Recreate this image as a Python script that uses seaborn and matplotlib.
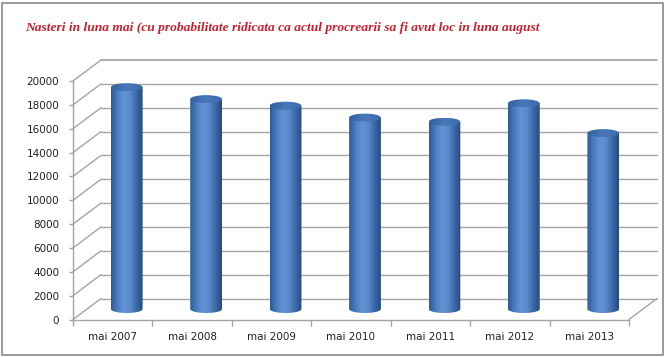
import numpy as np
import pandas as pd
import matplotlib
matplotlib.use("Agg")
import matplotlib.pyplot as plt
import seaborn as sns
from matplotlib.patches import Ellipse, PathPatch, ConnectionPatch, Rectangle
from matplotlib.path import Path
from matplotlib.colors import LinearSegmentedColormap

# date: nasteri in luna mai
labels = ['mai 2007', 'mai 2008', 'mai 2009', 'mai 2010', 'mai 2011', 'mai 2012', 'mai 2013']
values = [18600, 17600, 17050, 16050, 15700, 17250, 14750]
y_ticks = list(range(0, 20001, 2000))
title = 'Nasteri in luna mai (cu probabilitate ridicata ca actul procrearii sa fi avut loc in luna august'

sns.set_theme(style='white')
plt.rcParams['font.family'] = ['DejaVu Sans']

W, H = 666, 357
fig = plt.figure(figsize=(W / 100, H / 100), dpi=100)
fig.patch.set_facecolor('white')

grid_c = '#a4a4a4'

# axa din fata (pozitie in pixeli)
fx0, fy0, fw, fh = 73, 37.5, 556, 238.5
dx, dy = 28, 21   # adancime 3D
ell_px = 8        # inaltimea elipsei in pixeli
ymax = 20000
ell_h = ell_px / fh * ymax

ax_back = fig.add_axes([(fx0 + dx) / W, (fy0 + dy) / H, fw / W, fh / H], zorder=0)
ax = fig.add_axes([fx0 / W, fy0 / H, fw / W, fh / H], zorder=1)
# axa cilindrilor, putin mai jos ca sa incapa elipsa de la baza
ax_mid = fig.add_axes([(fx0 + dx / 2) / W, (fy0 + dy / 2 - ell_px) / H,
                       fw / W, (fh + ell_px) / H], zorder=2)

for a in (ax_back, ax):
    a.set_xlim(-0.5, len(labels) - 0.5)
    a.set_ylim(0, ymax)
    a.patch.set_alpha(0)
ax_mid.patch.set_alpha(0)

# perete spate: linii de grila
for v in y_ticks:
    ax_back.axhline(v, color=grid_c, lw=1.0 if v < ymax else 1.3, zorder=0, clip_on=False)
ax_back.set_xticks([])
ax_back.set_yticks([])
for s in ax_back.spines.values():
    s.set_visible(False)

# perete stang si podea: linii diagonale
for v in y_ticks:
    cp = ConnectionPatch(xyA=(-0.5, v), coordsA=ax.transData,
                         xyB=(-0.5, v), coordsB=ax_back.transData,
                         color=grid_c, lw=1.0, arrowstyle='-')
    cp.set_clip_on(False)
    ax_back.add_artist(cp)
cp = ConnectionPatch(xyA=(len(labels) - 0.5, 0), coordsA=ax.transData,
                     xyB=(len(labels) - 0.5, 0), coordsB=ax_back.transData,
                     color=grid_c, lw=1.0, arrowstyle='-')
cp.set_clip_on(False)
ax_back.add_artist(cp)

# axa din fata
ax.set_yticks(y_ticks)
ax.set_yticklabels([str(v) for v in y_ticks], fontsize=7.5, color='#222222')
ax.set_xticks(range(len(labels)))
ax.set_xticklabels(labels, fontsize=7.5, color='#222222')
ax.set_xticks(np.arange(-0.5, len(labels)), minor=True)
ax.tick_params(axis='x', which='major', length=0, pad=9)
ax.tick_params(axis='x', which='minor', length=4, width=1, color=grid_c, direction='out', bottom=True)
ax.tick_params(axis='y', length=3, width=1, color=grid_c, direction='out', left=True, pad=7)
for name, s in ax.spines.items():
    if name in ('left', 'bottom'):
        s.set_color(grid_c)
        s.set_linewidth(1.0)
    else:
        s.set_visible(False)

# cilindri
df = pd.DataFrame({'luna': labels, 'nasteri': values})
sns.barplot(data=df, x='luna', y='nasteri', ax=ax_mid, width=0.4, color='#4a7cbf')
ax_mid.set_xlabel('')
ax_mid.set_ylabel('')
ax_mid.set_xticks([])
ax_mid.set_yticks([])
for s in ax_mid.spines.values():
    s.set_visible(False)

body_cmap = LinearSegmentedColormap.from_list(
    'cyl', ['#2d5a92', '#4a7cbf', '#6393d6', '#5a8acb', '#3b68a6', '#254c80'])
top_cmap = LinearSegmentedColormap.from_list(
    'cyltop', ['#35629e', '#4878ba', '#3d6cab'])
grad = np.linspace(0, 1, 256).reshape(1, -1)

for p in list(ax_mid.patches):
    x0, w, h = p.get_x(), p.get_width(), p.get_height()
    xc = x0 + w / 2
    p.set_visible(False)
    t = np.linspace(np.pi, 2 * np.pi, 60)
    xs = xc + w / 2 * np.cos(t)
    ys = ell_h / 2 * np.sin(t)
    verts = list(zip(xs, ys)) + [(x0 + w, h), (x0, h), (x0, 0)]
    body = PathPatch(Path(verts), transform=ax_mid.transData, facecolor='none', edgecolor='none')
    ax_mid.add_patch(body)
    im = ax_mid.imshow(grad, cmap=body_cmap, extent=[x0, x0 + w, -ell_h / 2, h],
                       aspect='auto', zorder=2)
    im.set_clip_path(body)
    top = Ellipse((xc, h), w, ell_h, transform=ax_mid.transData,
                  facecolor='none', edgecolor='none')
    ax_mid.add_patch(top)
    im2 = ax_mid.imshow(grad, cmap=top_cmap, extent=[x0, x0 + w, h - ell_h / 2, h + ell_h / 2],
                        aspect='auto', zorder=3)
    im2.set_clip_path(top)

ax_mid.set_xlim(-0.5, len(labels) - 0.5)
ax_mid.set_ylim(-ell_h, ymax)

# titlu
fig.text(25 / W, 1 - 31 / H, title, fontfamily='Liberation Serif', style='italic',
         weight='bold', color='#c8202c', fontsize=9.7, va='baseline', ha='left')

# chenar
fig.patches.append(Rectangle((2 / W, 2 / H), 661 / W, 352 / H, transform=fig.transFigure,
                             fill=False, edgecolor='#8a8a8a', lw=1.2))

fig.savefig('out.png', dpi=100)
